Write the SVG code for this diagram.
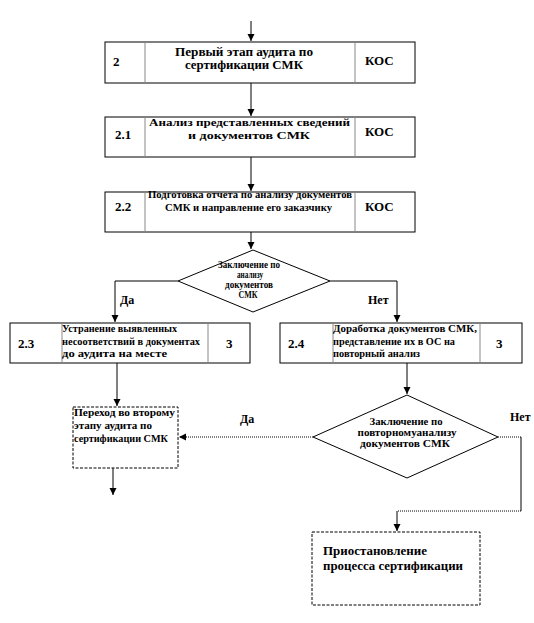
<svg xmlns="http://www.w3.org/2000/svg" width="534" height="623" viewBox="0 0 534 623">
<style>
text{font-family:"Liberation Serif",serif;font-weight:bold;fill:#000;}
.s10{font-size:10px;}
.s11{font-size:11px;}
.s12{font-size:12px;}
.s13{font-size:13px;}
.box{fill:#fff;stroke:#000;stroke-width:1;}
.div{stroke:#888;stroke-width:1;}
.dash{fill:#fff;stroke:#000;stroke-width:1;stroke-dasharray:3,1.5;}
.ln{fill:none;stroke:#000;stroke-width:1;}
.dl{fill:none;stroke:#000;stroke-width:1;stroke-dasharray:1,1;}
</style>
<defs>
<marker id="ah" markerWidth="8" markerHeight="8" refX="7" refY="4" orient="auto" markerUnits="userSpaceOnUse">
<path d="M0,0.5 L7,4 L0,7.5 Z" fill="#000"/>
</marker>
</defs>
<rect width="534" height="623" fill="#fff"/>

<g id="connectors" font-family="Liberation Serif, serif">
<line class="ln" x1="251" y1="21" x2="251" y2="41" marker-end="url(#ah)"/>
<line class="ln" x1="251" y1="83" x2="251" y2="116" marker-end="url(#ah)"/>
<line class="ln" x1="251" y1="157" x2="251" y2="191" marker-end="url(#ah)"/>
<line class="ln" x1="251" y1="232" x2="251" y2="249" marker-end="url(#ah)"/>
<polyline class="ln" points="178,281 115,281 115,322" marker-end="url(#ah)"/>
<polyline class="ln" points="330,281 397,281 397,322" marker-end="url(#ah)"/>
<line class="ln" x1="117" y1="363" x2="117" y2="406" marker-end="url(#ah)"/>
<line class="ln" x1="407" y1="363" x2="407" y2="394" marker-end="url(#ah)"/>
<line class="dl" x1="313" y1="437" x2="179" y2="437" marker-end="url(#ah)"/>
<line class="dl" x1="498" y1="437" x2="521" y2="437"/>
<line class="ln" x1="521" y1="437" x2="521" y2="511"/>
<line class="dl" x1="521" y1="511" x2="397" y2="511"/>
<line class="ln" x1="397" y1="511" x2="397" y2="531" marker-end="url(#ah)"/>
<line class="ln" x1="113" y1="468" x2="113" y2="495" marker-end="url(#ah)"/>
<text class="s12" x="120" y="304">Да</text>
<text class="s12" x="368" y="304">Нет</text>
<text class="s12" x="240" y="423">Да</text>
<text class="s12" x="510" y="421">Нет</text>
</g>

<g id="node-2">
<rect class="box" x="105" y="42" width="310" height="41"/>
<line class="div" x1="145" y1="42" x2="145" y2="83"/>
<line class="div" x1="355" y1="42" x2="355" y2="83"/>
<text class="s13" x="113" y="66">2</text>
<text class="s12" x="244" y="56" text-anchor="middle" textLength="138" lengthAdjust="spacingAndGlyphs">Первый этап аудита по</text>
<text class="s12" x="244" y="69" text-anchor="middle" textLength="118" lengthAdjust="spacingAndGlyphs">сертификации СМК</text>
<text class="s13" x="365" y="65">КОС</text>
</g>

<g id="node-2-1">
<rect class="box" x="105" y="117" width="310" height="40"/>
<line class="div" x1="145" y1="117" x2="145" y2="157"/>
<line class="div" x1="355" y1="117" x2="355" y2="157"/>
<text class="s13" x="115" y="139">2.1</text>
<text class="s11" x="149" y="126" textLength="201" lengthAdjust="spacingAndGlyphs">Анализ представленных сведений</text>
<text class="s11" x="188" y="139" textLength="122" lengthAdjust="spacingAndGlyphs">и документов СМК</text>
<text class="s13" x="365" y="136">КОС</text>
</g>

<g id="node-2-2">
<rect class="box" x="105" y="192" width="310" height="40"/>
<line class="div" x1="145" y1="192" x2="145" y2="232"/>
<line class="div" x1="355" y1="192" x2="355" y2="232"/>
<text class="s13" x="115" y="211">2.2</text>
<text class="s10" x="148" y="198" textLength="204" lengthAdjust="spacingAndGlyphs">Подготовка отчета по анализу документов</text>
<text class="s10" x="165" y="211" textLength="167" lengthAdjust="spacingAndGlyphs">СМК и направление его заказчику</text>
<text class="s13" x="365" y="211">КОС</text>
</g>

<g id="decision-1">
<polygon class="box" points="253,250 330,281 253,312 178,281"/>
<text class="s10" x="249" y="268" text-anchor="middle" textLength="62" lengthAdjust="spacingAndGlyphs">Заключение по</text>
<text class="s10" x="250" y="278" text-anchor="middle" textLength="26" lengthAdjust="spacingAndGlyphs">анализу</text>
<text class="s10" x="249" y="288" text-anchor="middle" textLength="48" lengthAdjust="spacingAndGlyphs">документов</text>
<text class="s10" x="248" y="298" text-anchor="middle" textLength="19" lengthAdjust="spacingAndGlyphs">СМК</text>
</g>

<g id="node-2-3">
<rect class="box" x="10" y="323" width="240" height="40"/>
<line class="div" x1="62" y1="323" x2="62" y2="363"/>
<line class="div" x1="208" y1="323" x2="208" y2="363"/>
<text class="s13" x="18" y="348">2.3</text>
<text class="s10" x="62" y="332" textLength="115" lengthAdjust="spacingAndGlyphs">Устранение выявленных</text>
<text class="s10" x="62" y="345" textLength="138" lengthAdjust="spacingAndGlyphs">несоответствий в документах</text>
<text class="s10" x="62" y="357" textLength="105" lengthAdjust="spacingAndGlyphs">до аудита на месте</text>
<text class="s13" x="226" y="348">3</text>
</g>

<g id="node-2-4">
<rect class="box" x="280" y="323" width="242" height="40"/>
<line class="div" x1="333" y1="323" x2="333" y2="363"/>
<line class="div" x1="480" y1="323" x2="480" y2="363"/>
<text class="s13" x="288" y="348">2.4</text>
<text class="s10" x="333" y="332" textLength="144" lengthAdjust="spacingAndGlyphs">Доработка документов СМК,</text>
<text class="s10" x="333" y="345" textLength="122" lengthAdjust="spacingAndGlyphs">представление их в ОС на</text>
<text class="s10" x="333" y="357" textLength="87" lengthAdjust="spacingAndGlyphs">повторный анализ</text>
<text class="s13" x="496" y="348">3</text>
</g>

<g id="node-transition">
<rect class="dash" x="73" y="407" width="105" height="61"/>
<text class="s10" x="74" y="416" textLength="101" lengthAdjust="spacingAndGlyphs">Переход во второму</text>
<text class="s10" x="74" y="429" textLength="78" lengthAdjust="spacingAndGlyphs">этапу аудита по</text>
<text class="s10" x="74" y="442" textLength="94" lengthAdjust="spacingAndGlyphs">сертификации СМК</text>
</g>

<g id="decision-2">
<polygon class="box" points="407,395 498,437 407,478 313,437"/>
<text class="s10" x="406" y="425" text-anchor="middle" textLength="73" lengthAdjust="spacingAndGlyphs">Заключение по</text>
<text class="s10" x="407" y="436" text-anchor="middle" textLength="99" lengthAdjust="spacingAndGlyphs">повторномуанализу</text>
<text class="s10" x="405" y="447" text-anchor="middle" textLength="90" lengthAdjust="spacingAndGlyphs">документов СМК</text>
</g>

<g id="node-suspend">
<rect class="dash" x="312" y="532" width="168" height="73"/>
<text class="s13" x="323" y="555" textLength="104" lengthAdjust="spacingAndGlyphs">Приостановление</text>
<text class="s13" x="323" y="570" textLength="140" lengthAdjust="spacingAndGlyphs">процесса сертификации</text>
</g>
</svg>
